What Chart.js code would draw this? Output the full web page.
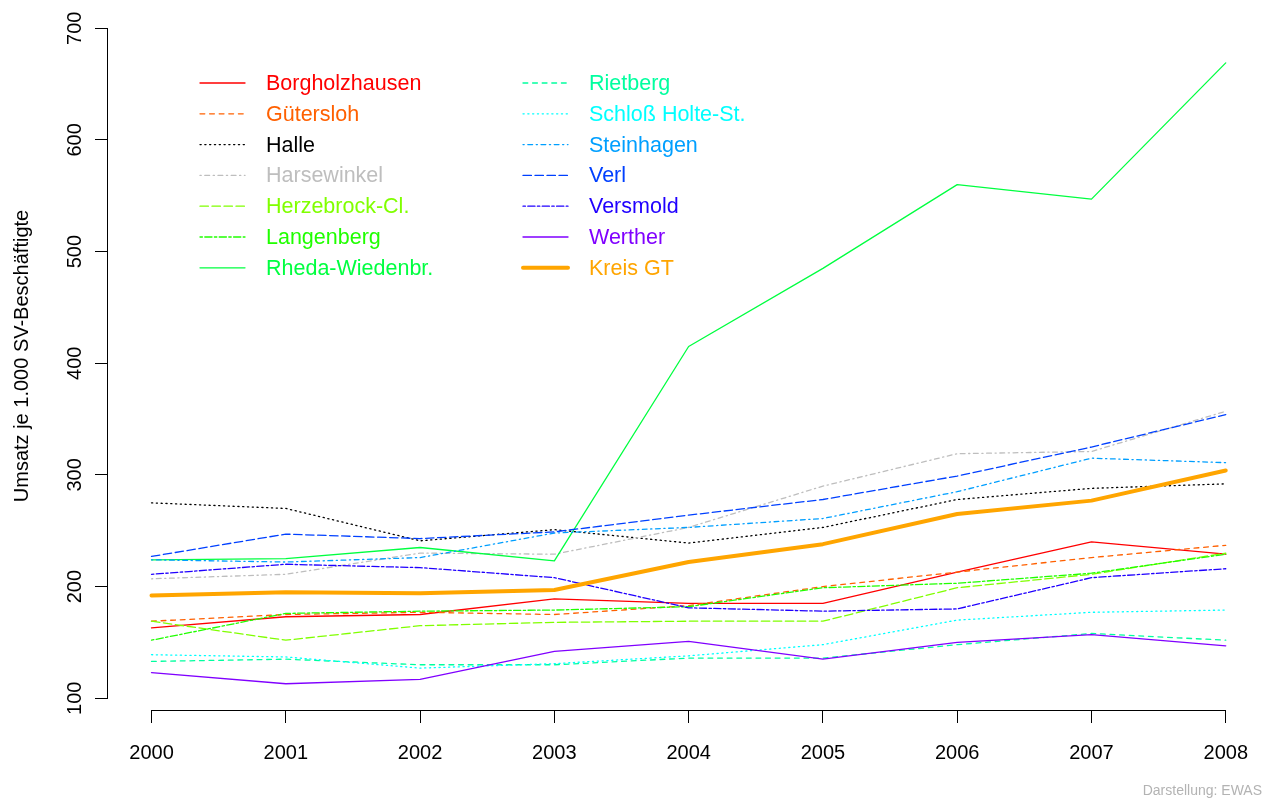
<!DOCTYPE html>
<html>
<head>
<meta charset="utf-8">
<script src="https://cdn.jsdelivr.net/npm/chart.js@4"></script>
<style>
  html, body { margin: 0; padding: 0; background: #fff; }
  #wrap { width: 1266px; height: 799px; }
</style>
</head>
<body>
<div id="wrap"><canvas id="umsatzChart" width="1266" height="799"></canvas></div>
<script>
// ==========================================
// DATA
// ==========================================
const YEARS = [2000, 2001, 2002, 2003, 2004, 2005, 2006, 2007, 2008];
const Y_TICKS = [100, 200, 300, 400, 500, 600, 700];

const BORGHOLZHAUSEN = [163, 173, 175, 189, 185, 185, 213, 240, 229];
const GUETERSLOH     = [169, 175, 177, 175, 183, 200, 213, 226, 237];
const HALLE          = [275, 270, 241, 251, 239, 253, 278, 288, 292];
const HARSEWINKEL    = [207, 211, 230, 229, 253, 290, 319, 321, 357];
const HERZEBROCK     = [169, 152, 165, 168, 169, 169, 199, 211, 230];
const LANGENBERG     = [152, 176, 178, 179, 182, 199, 203, 212, 229];
const RHEDA          = [224, 225, 235, 223, 415, 485, 560, 547, 669];
const RIETBERG       = [133, 135, 130, 130, 136, 136, 148, 158, 152];
const SCHLOSS_HOLTE  = [139, 137, 127, 131, 138, 148, 170, 177, 179];
const STEINHAGEN     = [224, 222, 226, 248, 253, 261, 285, 315, 311];
const VERL           = [227, 247, 243, 249, 264, 278, 299, 325, 354];
const VERSMOLD       = [211, 220, 217, 208, 181, 178, 180, 208, 216];
const WERTHER        = [123, 113, 117, 142, 151, 135, 150, 157, 147];
const KREIS_GT       = [192, 195, 194, 197, 222, 238, 265, 277, 304];

const SERIES_NAMES = [
  'Borgholzhausen', 'Gütersloh', 'Halle', 'Harsewinkel', 'Herzebrock-Cl.',
  'Langenberg', 'Rheda-Wiedenbr.', 'Rietberg', 'Schloß Holte-St.', 'Steinhagen',
  'Verl', 'Versmold', 'Werther', 'Kreis GT'
];
const SERIES_VALUES = [
  BORGHOLZHAUSEN, GUETERSLOH, HALLE, HARSEWINKEL, HERZEBROCK,
  LANGENBERG, RHEDA, RIETBERG, SCHLOSS_HOLTE, STEINHAGEN,
  VERL, VERSMOLD, WERTHER, KREIS_GT
];

// ==========================================
// STYLE
// ==========================================
const COLORS = [
  '#FF0000', '#FF6000', '#000000', '#BEBEBE', '#80FF00',
  '#20FF00', '#00FF40', '#00FF9F', '#00FFFF', '#009FFF',
  '#0040FF', '#2000FF', '#8000FF', '#FFA500'
];
// R line types 1..6, scaled
const LTY = {
  solid: [],
  dashed: [4.8, 4.8],
  dotted: [1.2, 3.6],
  dotdash: [1.2, 3.6, 4.8, 3.6],
  longdash: [8.4, 3.6],
  twodash: [2.4, 2.4, 7.2, 2.4]
};
const LTY_CYCLE = ['solid', 'dashed', 'dotted', 'dotdash', 'longdash', 'twodash'];

const FONT = "'Liberation Sans', Arial, Helvetica, sans-serif";

// plot region, R style (4% padding)
const X_MIN = 1999.676, X_MAX = 2008.29;
const Y_MIN = 89.5, Y_MAX = 723.5;

// ==========================================
// DATASETS
// ==========================================
const datasets = SERIES_NAMES.map((name, i) => {
  const isKreis = i === SERIES_NAMES.length - 1;
  return {
    label: name,
    data: YEARS.map((yr, k) => ({ x: yr, y: SERIES_VALUES[i][k] })),
    borderColor: COLORS[i],
    backgroundColor: COLORS[i],
    borderWidth: isKreis ? 4 : 1.3,
    borderDash: isKreis ? [] : LTY[LTY_CYCLE[i % 6]],
    borderCapStyle: 'round',
    borderJoinStyle: 'round',
    pointRadius: 0,
    tension: 0,
    fill: false,
    order: isKreis ? 0 : SERIES_NAMES.length - i
  };
});

// axes lines, y tick labels, legend and footer in R look
const rPlotExtras = {
  id: 'rPlotExtras',
  afterDraw(chart) {
    const { ctx, scales: { x, y }, chartArea } = chart;
    ctx.save();

    // axis lines between first and last tick
    ctx.strokeStyle = '#000';
    ctx.lineWidth = 1;
    ctx.setLineDash([]);
    const xb = Math.round(chartArea.bottom) + 0.5;
    ctx.beginPath();
    ctx.moveTo(x.getPixelForValue(YEARS[0]), xb);
    ctx.lineTo(x.getPixelForValue(YEARS[YEARS.length - 1]), xb);
    ctx.stroke();
    const yl = Math.round(chartArea.left) - 0.5;
    ctx.beginPath();
    ctx.moveTo(yl, y.getPixelForValue(Y_TICKS[0]));
    ctx.lineTo(yl, y.getPixelForValue(Y_TICKS[Y_TICKS.length - 1]));
    ctx.stroke();

    // y tick labels, rotated like R
    ctx.fillStyle = '#000';
    ctx.font = '20px ' + FONT;
    ctx.textAlign = 'center';
    ctx.textBaseline = 'middle';
    y.ticks.forEach(t => {
      ctx.save();
      ctx.translate(75, y.getPixelForValue(t.value));
      ctx.rotate(-Math.PI / 2);
      ctx.fillText(String(t.value), 0, 0);
      ctx.restore();
    });

    // legend, two columns
    ctx.font = '21.5px ' + FONT;
    ctx.textAlign = 'left';
    chart.data.datasets.forEach((ds, i) => {
      const col = i < 7 ? 0 : 1;
      const row = i % 7;
      const lx = col === 0 ? 200 : 523;
      const tx = col === 0 ? 266 : 589;
      const ly = 83 + row * 30.8;
      ctx.strokeStyle = ds.borderColor;
      ctx.lineWidth = ds.borderWidth;
      ctx.lineCap = 'round';
      ctx.setLineDash(ds.borderDash);
      ctx.beginPath();
      ctx.moveTo(lx, ly);
      ctx.lineTo(lx + 45, ly);
      ctx.stroke();
      ctx.fillStyle = ds.borderColor;
      ctx.fillText(ds.label, tx, ly + 1);
    });

    // source note
    ctx.setLineDash([]);
    ctx.font = '14px ' + FONT;
    ctx.fillStyle = '#B3B3B3';
    ctx.textAlign = 'right';
    ctx.textBaseline = 'alphabetic';
    ctx.fillText('Darstellung: EWAS', 1262, 795);

    ctx.restore();
  }
};

const ctx = document.getElementById('umsatzChart').getContext('2d');
const myChart = new Chart(ctx, {
  type: 'line',
  data: { datasets },
  options: {
    responsive: false,
    animation: false,
    devicePixelRatio: 1,
    layout: { padding: { top: 2, right: 0, bottom: 0, left: 0 } },
    plugins: {
      legend: { display: false },
      tooltip: { enabled: false }
    },
    scales: {
      x: {
        type: 'linear',
        min: X_MIN,
        max: X_MAX,
        afterBuildTicks: s => { s.ticks = YEARS.map(v => ({ value: v })); },
        afterFit: s => { s.height = 89; },
        ticks: {
          color: '#000',
          font: { family: FONT, size: 20 },
          padding: 18,
          maxRotation: 0,
          autoSkip: false,
          callback: v => String(v)
        },
        grid: { drawOnChartArea: false, drawTicks: true, tickLength: 13, color: '#000', lineWidth: 1 },
        border: { display: false }
      },
      y: {
        type: 'linear',
        min: Y_MIN,
        max: Y_MAX,
        afterBuildTicks: s => { s.ticks = Y_TICKS.map(v => ({ value: v })); },
        afterFit: s => { s.width = 108; },
        ticks: { display: false },
        grid: { drawOnChartArea: false, drawTicks: true, tickLength: 13, color: '#000', lineWidth: 1 },
        border: { display: false },
        title: {
          display: true,
          text: 'Umsatz je 1.000 SV-Beschäftigte',
          color: '#000',
          font: { family: FONT, size: 20 },
          padding: { top: 10, bottom: 0 }
        }
      }
    }
  },
  plugins: [rPlotExtras]
});
</script>
</body>
</html>
